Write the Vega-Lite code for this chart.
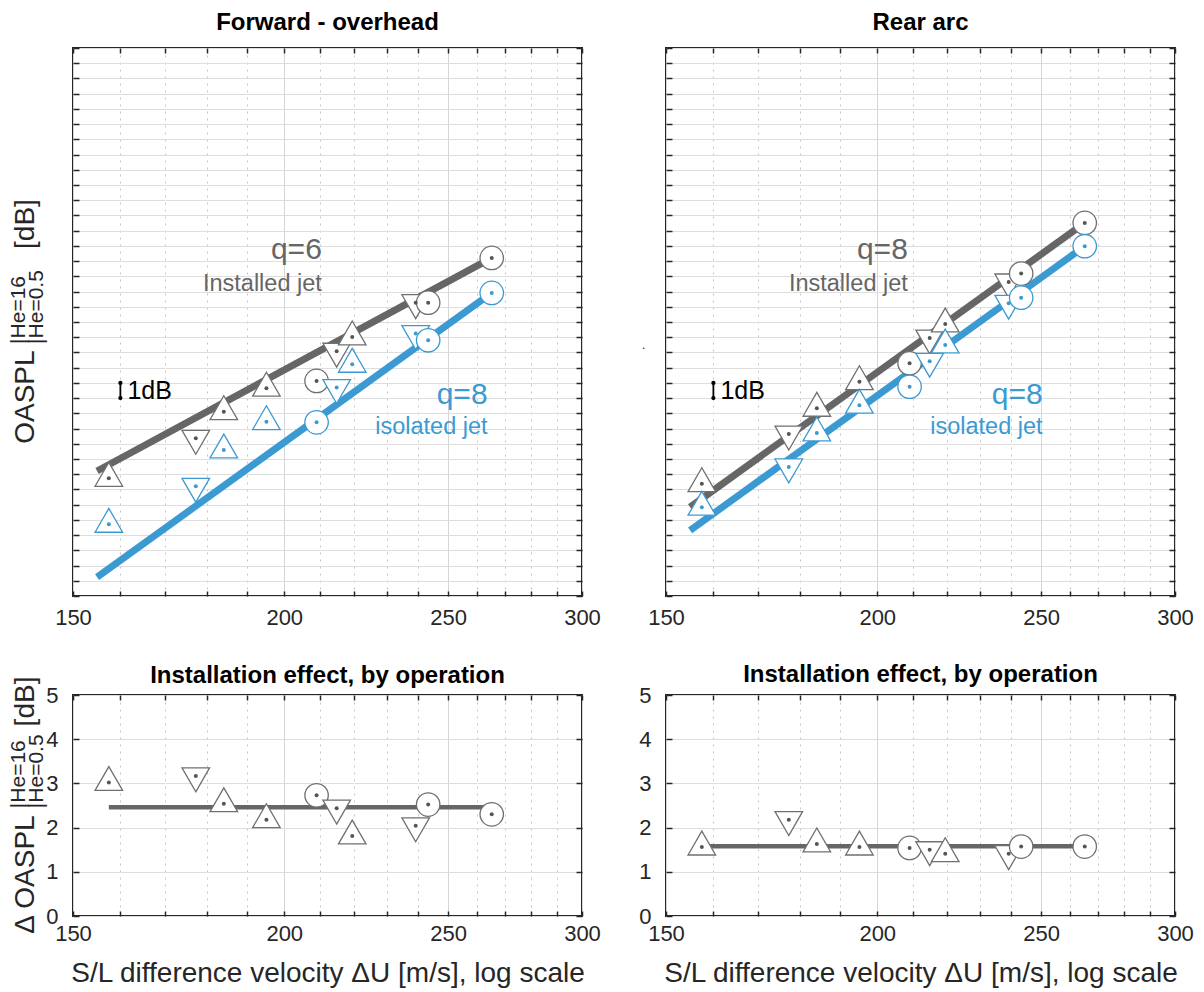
{
  "$schema": "https://vega.github.io/schema/vega-lite/v6.json",
  "background": "white",
  "padding": {"left": 6, "top": 10, "right": 5, "bottom": 5},
  "config": {
    "font": "Liberation Sans",
    "view": {"stroke": "#262626", "strokeWidth": 2},
    "axis": {"labelFont": "Liberation Sans", "titleFont": "Liberation Sans"},
    "text": {"font": "Liberation Sans"},
    "title": {"font": "Liberation Sans", "fontSize": 24, "fontWeight": "bold", "color": "#000000", "anchor": "middle", "offset": 12}
  },
  "datasets": {
    "fwd": [
      {"U": 157.5, "op": "up", "installed": 7.73, "isolated": 4.71, "delta": 3.02},
      {"U": 177.3, "op": "down", "installed": 10.36, "isolated": 7.21, "delta": 3.17},
      {"U": 184.2, "op": "up", "installed": 12.11, "isolated": 9.59, "delta": 2.54},
      {"U": 195.2, "op": "up", "installed": 13.65, "isolated": 11.45, "delta": 2.18},
      {"U": 209.0, "op": "circle", "installed": 14.13, "isolated": 11.41, "delta": 2.73},
      {"U": 214.8, "op": "down", "installed": 16.08, "isolated": 13.69, "delta": 2.44},
      {"U": 219.4, "op": "up", "installed": 17.02, "isolated": 15.22, "delta": 1.81},
      {"U": 239.2, "op": "down", "installed": 19.27, "isolated": 17.24, "delta": 2.04},
      {"U": 243.3, "op": "circle", "installed": 19.27, "isolated": 16.80, "delta": 2.52},
      {"U": 265.3, "op": "circle", "installed": 22.21, "isolated": 19.91, "delta": 2.30}
    ],
    "rear": [
      {"U": 157.5, "op": "up", "installed": 7.38, "isolated": 5.83, "delta": 1.56},
      {"U": 177.3, "op": "down", "installed": 10.64, "isolated": 8.48, "delta": 2.18},
      {"U": 184.2, "op": "up", "installed": 12.33, "isolated": 10.71, "delta": 1.63},
      {"U": 195.2, "op": "up", "installed": 14.08, "isolated": 12.53, "delta": 1.56},
      {"U": 209.0, "op": "circle", "installed": 15.29, "isolated": 13.75, "delta": 1.54},
      {"U": 214.8, "op": "down", "installed": 16.95, "isolated": 15.42, "delta": 1.50},
      {"U": 219.4, "op": "up", "installed": 17.87, "isolated": 16.49, "delta": 1.41},
      {"U": 239.2, "op": "down", "installed": 20.63, "isolated": 19.23, "delta": 1.41},
      {"U": 243.3, "op": "circle", "installed": 21.18, "isolated": 19.60, "delta": 1.57},
      {"U": 265.3, "op": "circle", "installed": 24.51, "isolated": 22.98, "delta": 1.57}
    ],
    "fitFwd": [
      {"jet": "installed", "U": 155, "dB": 8.21},
      {"jet": "installed", "U": 265.3, "dB": 22.21},
      {"jet": "isolated", "U": 155, "dB": 1.24},
      {"jet": "isolated", "U": 265.3, "dB": 19.91}
    ],
    "fitRear": [
      {"jet": "installed", "U": 155, "dB": 5.84},
      {"jet": "installed", "U": 265.3, "dB": 24.51},
      {"jet": "isolated", "U": 155, "dB": 4.31},
      {"jet": "isolated", "U": 265.3, "dB": 22.98}
    ],
    "meanFwd": [{"U": 157.5, "v": 2.46}, {"U": 265.3, "v": 2.46}],
    "meanRear": [{"U": 157.5, "v": 1.58}, {"U": 265.3, "v": 1.58}],
    "labFwd": [
      {"jet": "installed", "kind": "q", "text": "q=6", "U": 210.5, "dB": 22.73},
      {"jet": "installed", "kind": "name", "text": "Installed jet", "U": 210.5, "dB": 20.5},
      {"jet": "isolated", "kind": "q", "text": "q=8", "U": 263.8, "dB": 13.21},
      {"jet": "isolated", "kind": "name", "text": "isolated jet", "U": 263.8, "dB": 11.1}
    ],
    "labRear": [
      {"jet": "installed", "kind": "q", "text": "q=8", "U": 208.5, "dB": 22.73},
      {"jet": "installed", "kind": "name", "text": "Installed jet", "U": 208.5, "dB": 20.5},
      {"jet": "isolated", "kind": "q", "text": "q=8", "U": 250.5, "dB": 13.21},
      {"jet": "isolated", "kind": "name", "text": "isolated jet", "U": 250.5, "dB": 11.1}
    ],
    "bar": [{"U": 160, "lo": 13, "hi": 14, "mid": 13.5, "text": "1dB"}],
    "stray": [{"U": 145.5, "dB": 16.5, "txt": "."}],
    "ytTop": [
      {"part": "main", "txt": "OASPL", "U": 142.2, "y": 10.0},
      {"part": "small", "txt": "|He=16", "U": 140.5, "y": 16.56},
      {"part": "small", "txt": "|He=0.5", "U": 144.0, "y": 16.56},
      {"part": "main", "txt": "[dB]", "U": 142.2, "y": 22.8}
    ],
    "ytBot": [
      {"part": "main", "txt": "Δ OASPL", "U": 142.2, "y": -0.4},
      {"part": "small", "txt": "|He=16", "U": 140.5, "y": 2.44},
      {"part": "small", "txt": "|He=0.5", "U": 144.0, "y": 2.44},
      {"part": "main", "txt": "[dB]", "U": 142.2, "y": 4.29}
    ]
  },
  "columns": 2,
  "spacing": {"row": 99, "column": 84},
  "bounds": "flush",
  "concat": [
    {
      "width": 509,
      "height": 548,
      "title": {"text": "Forward - overhead"},
      "resolve": {"axis": {"x": "independent", "y": "independent"}},
      "layer": [
        {
          "data": {"name": "fitFwd"},
          "mark": {"type": "line", "strokeWidth": 7, "strokeCap": "butt"},
          "encoding": {
            "x": {"field": "U", "type": "quantitative", "scale": {"type": "log", "domain": [150, 300]},
              "axis": {"orient": "bottom", "values": [150, 160, 170, 180, 190, 200, 210, 220, 230, 240, 250, 260, 270, 280, 290, 300],
                "labelExpr": "datum.value % 50 === 0 ? format(datum.value, 'd') : ''", "labelFlush": false, "labelOverlap": false,
                "labelPadding": 16, "labelFontSize": 22, "labelColor": "#262626",
                "tickSize": -5, "tickWidth": 1.5, "tickColor": "#262626", "domain": false, "title": null,
                "grid": true, "gridWidth": 1,
                "gridColor": {"condition": {"test": "datum.value % 50 === 0", "value": "#d6d6d6"}, "value": "#c4c4c4"},
                "gridDash": {"condition": {"test": "datum.value % 50 === 0", "value": []}, "value": [2, 5]}}},
            "y": {"field": "dB", "type": "quantitative", "scale": {"domain": [0, 36]},
              "axis": {"orient": "left", "values": [0, 1, 2, 3, 4, 5, 6, 7, 8, 9, 10, 11, 12, 13, 14, 15, 16, 17, 18, 19, 20, 21, 22, 23, 24, 25, 26, 27, 28, 29, 30, 31, 32, 33, 34, 35, 36],
                "labels": false, "tickSize": -6, "tickWidth": 1.5, "tickColor": "#262626", "domain": false, "title": null,
                "grid": true, "gridColor": "#dedede", "gridWidth": 1}},
            "color": {"field": "jet", "type": "nominal", "scale": {"domain": ["installed", "isolated"], "range": ["#666666", "#3c9ad2"]}, "legend": null}
          }
        },
        {
          "data": {"name": "fwd"},
          "transform": [{"fold": ["installed", "isolated"], "as": ["jet", "dB"]}],
          "mark": {"type": "point", "filled": true, "fill": "white", "strokeWidth": 1.3, "size": 760, "opacity": 1},
          "encoding": {
            "x": {"field": "U", "type": "quantitative", "scale": {"type": "log", "domain": [150, 300]},
              "axis": {"orient": "top", "values": [150, 160, 170, 180, 190, 200, 210, 220, 230, 240, 250, 260, 270, 280, 290, 300],
                "labels": false, "tickSize": -5, "tickWidth": 1.5, "tickColor": "#262626", "domain": false, "title": null, "grid": false}},
            "y": {"field": "dB", "type": "quantitative", "scale": {"domain": [0, 36]},
              "axis": {"orient": "right", "values": [0, 1, 2, 3, 4, 5, 6, 7, 8, 9, 10, 11, 12, 13, 14, 15, 16, 17, 18, 19, 20, 21, 22, 23, 24, 25, 26, 27, 28, 29, 30, 31, 32, 33, 34, 35, 36],
                "labels": false, "tickSize": -6, "tickWidth": 1.5, "tickColor": "#262626", "domain": false, "title": null, "grid": false}},
            "shape": {"field": "op", "type": "nominal", "scale": {"domain": ["up", "down", "circle"], "range": ["M0,-1.155L1,0.577L-1,0.577Z", "M0,1.155L1,-0.577L-1,-0.577Z", "M0.85,0A0.85,0.85,0,1,1,-0.85,0A0.85,0.85,0,1,1,0.85,0Z"]}, "legend": null},
            "stroke": {"field": "jet", "type": "nominal", "scale": {"domain": ["installed", "isolated"], "range": ["#707070", "#3c9ad2"]}, "legend": null}
          }
        },
        {
          "data": {"name": "fwd"},
          "transform": [{"fold": ["installed", "isolated"], "as": ["jet", "dB"]}],
          "mark": {"type": "circle", "size": 16, "opacity": 1},
          "encoding": {
            "x": {"field": "U", "type": "quantitative", "scale": {"type": "log", "domain": [150, 300]}, "axis": null},
            "y": {"field": "dB", "type": "quantitative", "scale": {"domain": [0, 36]}, "axis": null},
            "fill": {"field": "jet", "type": "nominal", "scale": {"domain": ["installed", "isolated"], "range": ["#555555", "#3c9ad2"]}, "legend": null}
          }
        },
        {
          "data": {"name": "labFwd"},
          "transform": [{"filter": "datum.kind === 'q'"}],
          "mark": {"type": "text", "align": "right", "baseline": "middle", "fontSize": 30},
          "encoding": {
            "x": {"field": "U", "type": "quantitative", "scale": {"type": "log", "domain": [150, 300]}, "axis": null},
            "y": {"field": "dB", "type": "quantitative", "scale": {"domain": [0, 36]}, "axis": null},
            "text": {"field": "text"},
            "color": {"field": "jet", "type": "nominal", "legend": null}
          }
        },
        {
          "data": {"name": "labFwd"},
          "transform": [{"filter": "datum.kind === 'name'"}],
          "mark": {"type": "text", "align": "right", "baseline": "middle", "fontSize": 23.5},
          "encoding": {
            "x": {"field": "U", "type": "quantitative", "scale": {"type": "log", "domain": [150, 300]}, "axis": null},
            "y": {"field": "dB", "type": "quantitative", "scale": {"domain": [0, 36]}, "axis": null},
            "text": {"field": "text"},
            "color": {"field": "jet", "type": "nominal", "legend": null}
          }
        },
        {
          "data": {"name": "bar"},
          "mark": {"type": "rule", "color": "#000000", "strokeWidth": 1.8},
          "encoding": {
            "x": {"field": "U", "type": "quantitative", "scale": {"type": "log", "domain": [150, 300]}, "axis": null},
            "y": {"field": "lo", "type": "quantitative", "scale": {"domain": [0, 36]}, "axis": null},
            "y2": {"field": "hi"}
          }
        },
        {
          "data": {"name": "bar"},
          "transform": [{"fold": ["lo", "hi"], "as": ["end", "dB"]}],
          "mark": {"type": "circle", "size": 18, "color": "#000000", "opacity": 1},
          "encoding": {
            "x": {"field": "U", "type": "quantitative", "scale": {"type": "log", "domain": [150, 300]}, "axis": null},
            "y": {"field": "dB", "type": "quantitative", "scale": {"domain": [0, 36]}, "axis": null}
          }
        },
        {
          "data": {"name": "bar"},
          "mark": {"type": "text", "align": "left", "baseline": "middle", "dx": 7, "fontSize": 25, "color": "#000000"},
          "encoding": {
            "x": {"field": "U", "type": "quantitative", "scale": {"type": "log", "domain": [150, 300]}, "axis": null},
            "y": {"field": "mid", "type": "quantitative", "scale": {"domain": [0, 36]}, "axis": null},
            "text": {"field": "text"}
          }
        },
        {
          "data": {"name": "ytTop"},
          "transform": [{"filter": "datum.part === 'main'"}],
          "mark": {"type": "text", "angle": 270, "align": "left", "baseline": "alphabetic", "fontSize": 28, "color": "#262626"},
          "encoding": {
            "x": {"field": "U", "type": "quantitative", "scale": {"type": "log", "domain": [150, 300]}, "axis": null},
            "y": {"field": "y", "type": "quantitative", "scale": {"domain": [0, 36]}, "axis": null},
            "text": {"field": "txt"}
          }
        },
        {
          "data": {"name": "ytTop"},
          "transform": [{"filter": "datum.part === 'small'"}],
          "mark": {"type": "text", "angle": 270, "align": "left", "baseline": "alphabetic", "fontSize": 21, "color": "#262626"},
          "encoding": {
            "x": {"field": "U", "type": "quantitative", "scale": {"type": "log", "domain": [150, 300]}, "axis": null},
            "y": {"field": "y", "type": "quantitative", "scale": {"domain": [0, 36]}, "axis": null},
            "text": {"field": "txt"}
          }
        }
      ]
    },
    {
      "width": 509,
      "height": 548,
      "title": {"text": "Rear arc"},
      "resolve": {"axis": {"x": "independent", "y": "independent"}},
      "layer": [
        {
          "data": {"name": "fitRear"},
          "mark": {"type": "line", "strokeWidth": 7, "strokeCap": "butt"},
          "encoding": {
            "x": {"field": "U", "type": "quantitative", "scale": {"type": "log", "domain": [150, 300]},
              "axis": {"orient": "bottom", "values": [150, 160, 170, 180, 190, 200, 210, 220, 230, 240, 250, 260, 270, 280, 290, 300],
                "labelExpr": "datum.value % 50 === 0 ? format(datum.value, 'd') : ''", "labelFlush": false, "labelOverlap": false,
                "labelPadding": 16, "labelFontSize": 22, "labelColor": "#262626",
                "tickSize": -5, "tickWidth": 1.5, "tickColor": "#262626", "domain": false, "title": null,
                "grid": true, "gridWidth": 1,
                "gridColor": {"condition": {"test": "datum.value % 50 === 0", "value": "#d6d6d6"}, "value": "#c4c4c4"},
                "gridDash": {"condition": {"test": "datum.value % 50 === 0", "value": []}, "value": [2, 5]}}},
            "y": {"field": "dB", "type": "quantitative", "scale": {"domain": [0, 36]},
              "axis": {"orient": "left", "values": [0, 1, 2, 3, 4, 5, 6, 7, 8, 9, 10, 11, 12, 13, 14, 15, 16, 17, 18, 19, 20, 21, 22, 23, 24, 25, 26, 27, 28, 29, 30, 31, 32, 33, 34, 35, 36],
                "labels": false, "tickSize": -6, "tickWidth": 1.5, "tickColor": "#262626", "domain": false, "title": null,
                "grid": true, "gridColor": "#dedede", "gridWidth": 1}},
            "color": {"field": "jet", "type": "nominal", "scale": {"domain": ["installed", "isolated"], "range": ["#666666", "#3c9ad2"]}, "legend": null}
          }
        },
        {
          "data": {"name": "rear"},
          "transform": [{"fold": ["installed", "isolated"], "as": ["jet", "dB"]}],
          "mark": {"type": "point", "filled": true, "fill": "white", "strokeWidth": 1.3, "size": 760, "opacity": 1},
          "encoding": {
            "x": {"field": "U", "type": "quantitative", "scale": {"type": "log", "domain": [150, 300]},
              "axis": {"orient": "top", "values": [150, 160, 170, 180, 190, 200, 210, 220, 230, 240, 250, 260, 270, 280, 290, 300],
                "labels": false, "tickSize": -5, "tickWidth": 1.5, "tickColor": "#262626", "domain": false, "title": null, "grid": false}},
            "y": {"field": "dB", "type": "quantitative", "scale": {"domain": [0, 36]},
              "axis": {"orient": "right", "values": [0, 1, 2, 3, 4, 5, 6, 7, 8, 9, 10, 11, 12, 13, 14, 15, 16, 17, 18, 19, 20, 21, 22, 23, 24, 25, 26, 27, 28, 29, 30, 31, 32, 33, 34, 35, 36],
                "labels": false, "tickSize": -6, "tickWidth": 1.5, "tickColor": "#262626", "domain": false, "title": null, "grid": false}},
            "shape": {"field": "op", "type": "nominal", "scale": {"domain": ["up", "down", "circle"], "range": ["M0,-1.155L1,0.577L-1,0.577Z", "M0,1.155L1,-0.577L-1,-0.577Z", "M0.85,0A0.85,0.85,0,1,1,-0.85,0A0.85,0.85,0,1,1,0.85,0Z"]}, "legend": null},
            "stroke": {"field": "jet", "type": "nominal", "scale": {"domain": ["installed", "isolated"], "range": ["#707070", "#3c9ad2"]}, "legend": null}
          }
        },
        {
          "data": {"name": "rear"},
          "transform": [{"fold": ["installed", "isolated"], "as": ["jet", "dB"]}],
          "mark": {"type": "circle", "size": 16, "opacity": 1},
          "encoding": {
            "x": {"field": "U", "type": "quantitative", "scale": {"type": "log", "domain": [150, 300]}, "axis": null},
            "y": {"field": "dB", "type": "quantitative", "scale": {"domain": [0, 36]}, "axis": null},
            "fill": {"field": "jet", "type": "nominal", "scale": {"domain": ["installed", "isolated"], "range": ["#555555", "#3c9ad2"]}, "legend": null}
          }
        },
        {
          "data": {"name": "labRear"},
          "transform": [{"filter": "datum.kind === 'q'"}],
          "mark": {"type": "text", "align": "right", "baseline": "middle", "fontSize": 30},
          "encoding": {
            "x": {"field": "U", "type": "quantitative", "scale": {"type": "log", "domain": [150, 300]}, "axis": null},
            "y": {"field": "dB", "type": "quantitative", "scale": {"domain": [0, 36]}, "axis": null},
            "text": {"field": "text"},
            "color": {"field": "jet", "type": "nominal", "legend": null}
          }
        },
        {
          "data": {"name": "labRear"},
          "transform": [{"filter": "datum.kind === 'name'"}],
          "mark": {"type": "text", "align": "right", "baseline": "middle", "fontSize": 23.5},
          "encoding": {
            "x": {"field": "U", "type": "quantitative", "scale": {"type": "log", "domain": [150, 300]}, "axis": null},
            "y": {"field": "dB", "type": "quantitative", "scale": {"domain": [0, 36]}, "axis": null},
            "text": {"field": "text"},
            "color": {"field": "jet", "type": "nominal", "legend": null}
          }
        },
        {
          "data": {"name": "bar"},
          "mark": {"type": "rule", "color": "#000000", "strokeWidth": 1.8},
          "encoding": {
            "x": {"field": "U", "type": "quantitative", "scale": {"type": "log", "domain": [150, 300]}, "axis": null},
            "y": {"field": "lo", "type": "quantitative", "scale": {"domain": [0, 36]}, "axis": null},
            "y2": {"field": "hi"}
          }
        },
        {
          "data": {"name": "bar"},
          "transform": [{"fold": ["lo", "hi"], "as": ["end", "dB"]}],
          "mark": {"type": "circle", "size": 18, "color": "#000000", "opacity": 1},
          "encoding": {
            "x": {"field": "U", "type": "quantitative", "scale": {"type": "log", "domain": [150, 300]}, "axis": null},
            "y": {"field": "dB", "type": "quantitative", "scale": {"domain": [0, 36]}, "axis": null}
          }
        },
        {
          "data": {"name": "bar"},
          "mark": {"type": "text", "align": "left", "baseline": "middle", "dx": 7, "fontSize": 25, "color": "#000000"},
          "encoding": {
            "x": {"field": "U", "type": "quantitative", "scale": {"type": "log", "domain": [150, 300]}, "axis": null},
            "y": {"field": "mid", "type": "quantitative", "scale": {"domain": [0, 36]}, "axis": null},
            "text": {"field": "text"}
          }
        },
        {
          "data": {"name": "stray"},
          "mark": {"type": "text", "align": "center", "baseline": "middle", "fontSize": 12, "color": "#262626"},
          "encoding": {
            "x": {"field": "U", "type": "quantitative", "scale": {"type": "log", "domain": [150, 300]}, "axis": null},
            "y": {"field": "dB", "type": "quantitative", "scale": {"domain": [0, 36]}, "axis": null},
            "text": {"field": "txt"}
          }
        }
      ]
    },
    {
      "width": 509,
      "height": 221,
      "title": {"text": "Installation effect, by operation", "offset": -3, "dy": 8},
      "resolve": {"axis": {"x": "independent", "y": "independent"}},
      "layer": [
        {
          "data": {"name": "meanFwd"},
          "mark": {"type": "line", "strokeWidth": 4.5, "color": "#666666", "strokeCap": "butt"},
          "encoding": {
            "x": {"field": "U", "type": "quantitative", "scale": {"type": "log", "domain": [150, 300]},
              "axis": {"orient": "bottom", "values": [150, 160, 170, 180, 190, 200, 210, 220, 230, 240, 250, 260, 270, 280, 290, 300],
                "labelExpr": "datum.value % 50 === 0 ? format(datum.value, 'd') : ''", "labelFlush": false, "labelOverlap": false,
                "labelPadding": 12, "labelFontSize": 22, "labelColor": "#262626",
                "tickSize": -5, "tickWidth": 1.5, "tickColor": "#262626", "domain": false,
                "title": "S/L difference velocity ΔU [m/s], log scale", "titleFontSize": 28, "titleFontWeight": "normal", "titleColor": "#262626", "titlePadding": 15,
                "grid": true, "gridWidth": 1,
                "gridColor": {"condition": {"test": "datum.value % 50 === 0", "value": "#d6d6d6"}, "value": "#c4c4c4"},
                "gridDash": {"condition": {"test": "datum.value % 50 === 0", "value": []}, "value": [2, 5]}}},
            "y": {"field": "v", "type": "quantitative", "scale": {"domain": [0, 5]},
              "axis": {"orient": "left", "values": [0, 1, 2, 3, 4, 5], "labelPadding": 21, "labelFontSize": 22, "labelColor": "#262626", "labelFlush": false,
                "tickSize": -6, "tickWidth": 1.5, "tickColor": "#262626", "domain": false, "title": null,
                "grid": true, "gridColor": "#dedede", "gridWidth": 1}}
          }
        },
        {
          "data": {"name": "fwd"},
          "mark": {"type": "point", "filled": true, "fill": "white", "stroke": "#707070", "strokeWidth": 1.3, "size": 760, "opacity": 1},
          "encoding": {
            "x": {"field": "U", "type": "quantitative", "scale": {"type": "log", "domain": [150, 300]},
              "axis": {"orient": "top", "values": [150, 160, 170, 180, 190, 200, 210, 220, 230, 240, 250, 260, 270, 280, 290, 300],
                "labels": false, "tickSize": -5, "tickWidth": 1.5, "tickColor": "#262626", "domain": false, "title": null, "grid": false}},
            "y": {"field": "delta", "type": "quantitative", "scale": {"domain": [0, 5]},
              "axis": {"orient": "right", "values": [0, 1, 2, 3, 4, 5], "labels": false, "tickSize": -6, "tickWidth": 1.5, "tickColor": "#262626", "domain": false, "title": null, "grid": false}},
            "shape": {"field": "op", "type": "nominal", "scale": {"domain": ["up", "down", "circle"], "range": ["M0,-1.155L1,0.577L-1,0.577Z", "M0,1.155L1,-0.577L-1,-0.577Z", "M0.85,0A0.85,0.85,0,1,1,-0.85,0A0.85,0.85,0,1,1,0.85,0Z"]}, "legend": null}
          }
        },
        {
          "data": {"name": "fwd"},
          "mark": {"type": "circle", "size": 16, "color": "#555555", "opacity": 1},
          "encoding": {
            "x": {"field": "U", "type": "quantitative", "scale": {"type": "log", "domain": [150, 300]}, "axis": null},
            "y": {"field": "delta", "type": "quantitative", "scale": {"domain": [0, 5]}, "axis": null}
          }
        },
        {
          "data": {"name": "ytBot"},
          "transform": [{"filter": "datum.part === 'main'"}],
          "mark": {"type": "text", "angle": 270, "align": "left", "baseline": "alphabetic", "fontSize": 28, "color": "#262626"},
          "encoding": {
            "x": {"field": "U", "type": "quantitative", "scale": {"type": "log", "domain": [150, 300]}, "axis": null},
            "y": {"field": "y", "type": "quantitative", "scale": {"domain": [0, 5]}, "axis": null},
            "text": {"field": "txt"}
          }
        },
        {
          "data": {"name": "ytBot"},
          "transform": [{"filter": "datum.part === 'small'"}],
          "mark": {"type": "text", "angle": 270, "align": "left", "baseline": "alphabetic", "fontSize": 21, "color": "#262626"},
          "encoding": {
            "x": {"field": "U", "type": "quantitative", "scale": {"type": "log", "domain": [150, 300]}, "axis": null},
            "y": {"field": "y", "type": "quantitative", "scale": {"domain": [0, 5]}, "axis": null},
            "text": {"field": "txt"}
          }
        }
      ]
    },
    {
      "width": 509,
      "height": 221,
      "title": {"text": "Installation effect, by operation", "offset": -3},
      "resolve": {"axis": {"x": "independent", "y": "independent"}},
      "layer": [
        {
          "data": {"name": "meanRear"},
          "mark": {"type": "line", "strokeWidth": 4.5, "color": "#666666", "strokeCap": "butt"},
          "encoding": {
            "x": {"field": "U", "type": "quantitative", "scale": {"type": "log", "domain": [150, 300]},
              "axis": {"orient": "bottom", "values": [150, 160, 170, 180, 190, 200, 210, 220, 230, 240, 250, 260, 270, 280, 290, 300],
                "labelExpr": "datum.value % 50 === 0 ? format(datum.value, 'd') : ''", "labelFlush": false, "labelOverlap": false,
                "labelPadding": 12, "labelFontSize": 22, "labelColor": "#262626",
                "tickSize": -5, "tickWidth": 1.5, "tickColor": "#262626", "domain": false,
                "title": "S/L difference velocity ΔU [m/s], log scale", "titleFontSize": 28, "titleFontWeight": "normal", "titleColor": "#262626", "titlePadding": 15,
                "grid": true, "gridWidth": 1,
                "gridColor": {"condition": {"test": "datum.value % 50 === 0", "value": "#d6d6d6"}, "value": "#c4c4c4"},
                "gridDash": {"condition": {"test": "datum.value % 50 === 0", "value": []}, "value": [2, 5]}}},
            "y": {"field": "v", "type": "quantitative", "scale": {"domain": [0, 5]},
              "axis": {"orient": "left", "values": [0, 1, 2, 3, 4, 5], "labelPadding": 21, "labelFontSize": 22, "labelColor": "#262626", "labelFlush": false,
                "tickSize": -6, "tickWidth": 1.5, "tickColor": "#262626", "domain": false, "title": null,
                "grid": true, "gridColor": "#dedede", "gridWidth": 1}}
          }
        },
        {
          "data": {"name": "rear"},
          "mark": {"type": "point", "filled": true, "fill": "white", "stroke": "#707070", "strokeWidth": 1.3, "size": 760, "opacity": 1},
          "encoding": {
            "x": {"field": "U", "type": "quantitative", "scale": {"type": "log", "domain": [150, 300]},
              "axis": {"orient": "top", "values": [150, 160, 170, 180, 190, 200, 210, 220, 230, 240, 250, 260, 270, 280, 290, 300],
                "labels": false, "tickSize": -5, "tickWidth": 1.5, "tickColor": "#262626", "domain": false, "title": null, "grid": false}},
            "y": {"field": "delta", "type": "quantitative", "scale": {"domain": [0, 5]},
              "axis": {"orient": "right", "values": [0, 1, 2, 3, 4, 5], "labels": false, "tickSize": -6, "tickWidth": 1.5, "tickColor": "#262626", "domain": false, "title": null, "grid": false}},
            "shape": {"field": "op", "type": "nominal", "scale": {"domain": ["up", "down", "circle"], "range": ["M0,-1.155L1,0.577L-1,0.577Z", "M0,1.155L1,-0.577L-1,-0.577Z", "M0.85,0A0.85,0.85,0,1,1,-0.85,0A0.85,0.85,0,1,1,0.85,0Z"]}, "legend": null}
          }
        },
        {
          "data": {"name": "rear"},
          "mark": {"type": "circle", "size": 16, "color": "#555555", "opacity": 1},
          "encoding": {
            "x": {"field": "U", "type": "quantitative", "scale": {"type": "log", "domain": [150, 300]}, "axis": null},
            "y": {"field": "delta", "type": "quantitative", "scale": {"domain": [0, 5]}, "axis": null}
          }
        }
      ]
    }
  ]
}
